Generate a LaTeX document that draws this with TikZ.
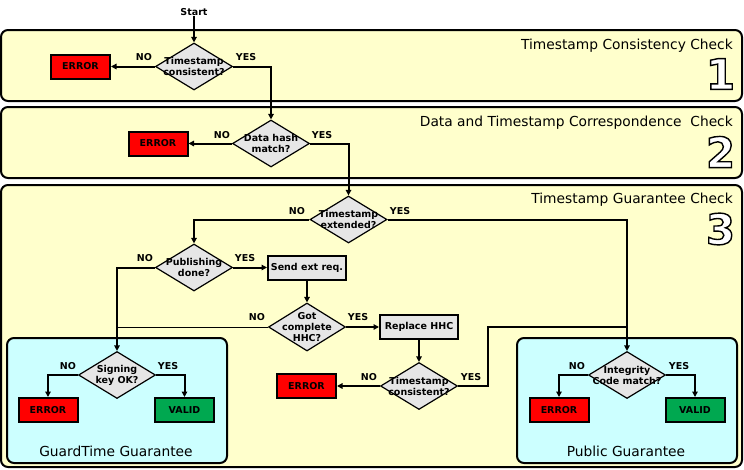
\documentclass[tikz,border=0pt]{standalone}
\usepackage{fontspec}
\usepackage{xcolor}
\usepackage{tikz}
\usetikzlibrary{arrows.meta,shapes.geometric}
\newfontfamily\dejavu{DejaVu Sans}
\newcommand\flowfont{\dejavu\bfseries\fontsize{9.5}{11}\selectfont}
\newcommand\headfont{\dejavu\fontsize{13.8}{15}\selectfont}
\newcommand\numfont{\dejavu\bfseries\fontsize{42}{42}\selectfont}
\newcommand\outlined[1]{\special{pdf:literal direct 2 Tr 1.4 w 0 0 0 RG}#1\special{pdf:literal direct 0 Tr}}
\definecolor{pane}{HTML}{FFFFCC}
\definecolor{guard}{HTML}{CCFFFF}
\definecolor{shade}{HTML}{E6E6E6}
\definecolor{errred}{HTML}{FF0000}
\definecolor{okgreen}{HTML}{00A850}
\tikzset{
  panel/.style={draw=black, line width=2pt, fill=pane, rounded corners=7pt},
  guarantee/.style={draw=black, line width=2pt, fill=guard, rounded corners=7pt},
  decision/.style={diamond, draw=black, line width=1.2pt, fill=shade, minimum width=77pt, minimum height=47pt, inner sep=0pt},
  dtext/.style={font=\flowfont, align=center, inner sep=0pt},
  proc/.style={rectangle, draw=black, line width=2pt, fill=shade, minimum width=78pt, minimum height=24pt, inner sep=0pt, font=\flowfont},
  errorbox/.style={rectangle, draw=black, line width=2pt, fill=errred, minimum width=59pt, minimum height=24pt, inner sep=0pt, font=\flowfont},
  validbox/.style={errorbox, fill=okgreen},
  flow/.style={-{Triangle[length=5.5pt,width=5.5pt]}, line width=2pt},
  joinline/.style={line width=2pt},
  thinjoin/.style={line width=1pt},
  lab/.style={font=\flowfont, inner sep=0pt},
  title/.style={font=\headfont, anchor=east, inner sep=0pt},
  bignum/.style={font=\numfont, text=white, inner sep=0pt}
}
\begin{document}
\begin{tikzpicture}[x=1pt,y=-1pt]
  \useasboundingbox (0,0) rectangle (744,469);

  % three check panels
  \draw[panel] (1,30) rectangle (742,101);
  \draw[panel] (1,107) rectangle (742,178);
  \draw[panel] (1,185) rectangle (742,467);
  % guarantee panels
  \draw[guarantee] (7,338) rectangle (227,463);
  \draw[guarantee] (517,338) rectangle (737,463);

  \node[title] (head1) at (733,46) {Timestamp Consistency Check};
  \node[title] (head2) at (733,123) {Data and Timestamp Correspondence\ \ Check};
  \node[title] (head3) at (733,200) {Timestamp Guarantee Check};
  \node[bignum] (num1) at (720.5,74) {\outlined{1}};
  \node[bignum] (num2) at (720.5,152) {\outlined{2}};
  \node[bignum] (num3) at (720.5,229) {\outlined{3}};
  \node[font=\headfont, inner sep=0pt] (gtitle) at (116,451) {GuardTime Guarantee};
  \node[font=\headfont, inner sep=0pt] (ptitle) at (626,451) {Public Guarantee};

  % check 1
  \node[lab] (start) at (194,12) {Start};
  \node[decision, label={[dtext]center:Timestamp\\consistent?}] (tsc) at (194,66.5) {};
  \node[errorbox] (err1) at (80.5,66.5) {ERROR};
  % check 2
  \node[decision, label={[dtext]center:Data hash\\match?}] (hash) at (271,143.5) {};
  \node[errorbox] (err2) at (158,143.5) {ERROR};
  % check 3
  \node[decision, label={[dtext]center:Timestamp\\extended?}] (ext) at (348.5,219.5) {};
  \node[decision, label={[dtext]center:Publishing\\done?}] (pub) at (194,267.5) {};
  \node[proc] (send) at (307,267.5) {Send ext req.};
  \node[decision, minimum height=48pt, label={[dtext]center:Got\\complete\\HHC?}] (hhc) at (307,327) {};
  \node[proc] (repl) at (419,327) {Replace HHC};
  \node[decision, label={[dtext]center:Timestamp\\consistent?}] (tsc2) at (419,386) {};
  \node[errorbox] (err3) at (306.5,386) {ERROR};
  % guarantees
  \node[decision, label={[dtext]center:Signing\\key OK?}] (sig) at (117,375) {};
  \node[errorbox] (err4) at (48,410) {ERROR};
  \node[validbox] (ok1) at (184.5,410) {VALID};
  \node[decision, label={[dtext]center:Integrity\\Code match?}] (integ) at (627,375) {};
  \node[errorbox] (err5) at (559,410) {ERROR};
  \node[validbox] (ok2) at (695,410) {VALID};

  \coordinate (bend) at (488,386);

  \draw[flow] (start) -- (tsc);
  \draw[flow] (tsc) -- (err1);
  \draw[flow] (tsc) -| (hash);
  \draw[flow] (hash) -- (err2);
  \draw[flow] (hash) -| (ext);
  \draw[flow] (ext) -| (pub);
  \draw[flow] (ext) -| (integ);
  \draw[flow] (pub) -- (send);
  \draw[flow] (pub) -| (sig);
  \draw[flow] (send) -- (hhc);
  \draw[flow] (hhc) -- (repl);
  \draw[thinjoin] (hhc.west) -- (hhc.west -| sig);
  \draw[flow] (repl) -- (tsc2);
  \draw[flow] (tsc2) -- (err3);
  \draw[joinline] (tsc2) -- (bend) |- (hhc -| integ);
  \draw[flow] (sig) -| (err4);
  \draw[flow] (sig) -| (ok1);
  \draw[flow] (integ) -| (err5);
  \draw[flow] (integ) -| (ok2);

  % branch labels
  \node[lab] (no1) at (144,57) {NO};
  \node[lab] (yes1) at (246,57) {YES};
  \node[lab] (no2) at (222,135) {NO};
  \node[lab] (yes2) at (322,135) {YES};
  \node[lab] (no3) at (297,211) {NO};
  \node[lab] (yes3) at (400,211) {YES};
  \node[lab] (no4) at (145,258) {NO};
  \node[lab] (yes4) at (245,258) {YES};
  \node[lab] (no5) at (257,317) {NO};
  \node[lab] (yes5) at (358,317) {YES};
  \node[lab] (no6) at (369,377) {NO};
  \node[lab] (yes6) at (471,377) {YES};
  \node[lab] (no7) at (68,366) {NO};
  \node[lab] (yes7) at (168,366) {YES};
  \node[lab] (no8) at (577,366) {NO};
  \node[lab] (yes8) at (679,366) {YES};
\end{tikzpicture}
\end{document}
